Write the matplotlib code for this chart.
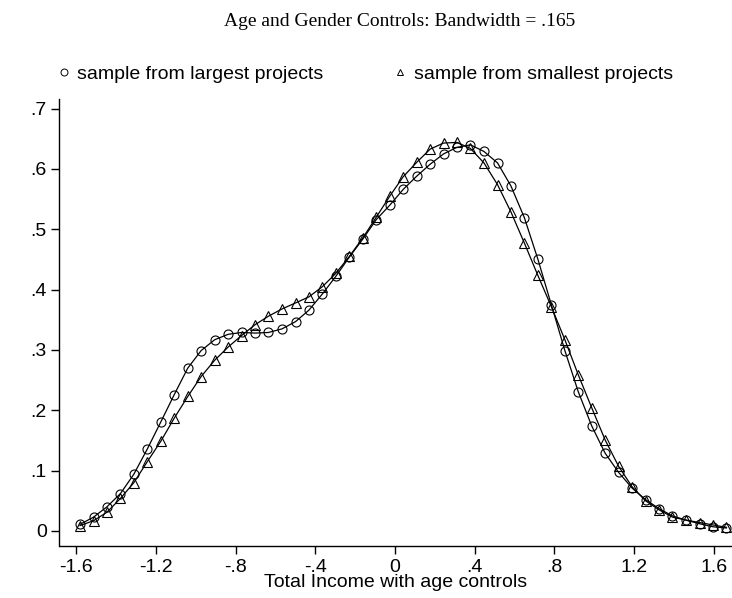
import numpy as np
import matplotlib.pyplot as plt
from matplotlib.lines import Line2D

# kernel density estimates
income = [-1.581, -1.513, -1.446, -1.378, -1.311, -1.243, -1.175, -1.108, -1.040, -0.973,
          -0.905, -0.837, -0.770, -0.702, -0.635, -0.567, -0.499, -0.432, -0.364, -0.297,
          -0.229, -0.161, -0.094, -0.026, 0.041, 0.109, 0.177, 0.244, 0.312, 0.379,
          0.447, 0.515, 0.582, 0.650, 0.717, 0.785, 0.853, 0.920, 0.988, 1.055,
          1.123, 1.191, 1.258, 1.326, 1.393, 1.461, 1.529, 1.596, 1.664]

largest = [0.011, 0.023, 0.040, 0.062, 0.094, 0.136, 0.181, 0.226, 0.270, 0.299,
           0.317, 0.326, 0.329, 0.328, 0.329, 0.335, 0.347, 0.366, 0.393, 0.422,
           0.454, 0.484, 0.516, 0.540, 0.566, 0.588, 0.608, 0.625, 0.636, 0.640,
           0.629, 0.610, 0.572, 0.519, 0.451, 0.375, 0.299, 0.231, 0.174, 0.129,
           0.097, 0.071, 0.052, 0.037, 0.025, 0.018, 0.012, 0.007, 0.005]

smallest = [0.009, 0.017, 0.031, 0.054, 0.080, 0.115, 0.149, 0.187, 0.223, 0.256,
            0.283, 0.305, 0.324, 0.342, 0.356, 0.368, 0.378, 0.388, 0.405, 0.427,
            0.455, 0.486, 0.520, 0.555, 0.587, 0.611, 0.633, 0.643, 0.644, 0.634,
            0.610, 0.574, 0.529, 0.477, 0.424, 0.372, 0.317, 0.259, 0.204, 0.151,
            0.107, 0.073, 0.050, 0.035, 0.023, 0.018, 0.014, 0.010, 0.006]

xticks = [-1.6, -1.2, -0.8, -0.4, 0, 0.4, 0.8, 1.2, 1.6]
xtick_labels = ["-1.6", "-1.2", "-.8", "-.4", "0", ".4", ".8", "1.2", "1.6"]
yticks = [0, 0.1, 0.2, 0.3, 0.4, 0.5, 0.6, 0.7]
ytick_labels = ["0", ".1", ".2", ".3", ".4", ".5", ".6", ".7"]

plt.rcParams['font.family'] = ['Liberation Sans', 'DejaVu Sans']

W, H = 732, 598
fig = plt.figure(figsize=(W / 100, H / 100), dpi=100)
# plot region in pixels: left 59.5, bottom spine at 546, top at 99
ax = fig.add_axes([59.5 / W, (H - 546) / H, (W - 59.5) / W, (546 - 99) / H])

ax.plot(income, largest, color='black', lw=0.9, marker='o', markersize=6.5,
        markerfacecolor='none', markeredgecolor='black', markeredgewidth=0.8, clip_on=False)
ax.plot(income, smallest, color='black', lw=0.9, marker='^', markersize=7,
        markerfacecolor='none', markeredgecolor='black', markeredgewidth=0.8, clip_on=False)

ax.set_xlim(-1.684, 1.692)
ax.set_ylim(-0.0249, 0.716)
ax.set_xticks(xticks)
ax.set_xticklabels(xtick_labels)
ax.set_yticks(yticks)
ax.set_yticklabels(ytick_labels)
ax.tick_params(direction='out', length=6, width=1, labelsize=14, colors='black', pad=3)

for side in ['top', 'right']:
    ax.spines[side].set_visible(False)
for side in ['left', 'bottom']:
    ax.spines[side].set_linewidth(1)

ax.set_xlabel("Total Income with age controls", fontsize=14, labelpad=-1)

fig.text(400 / W, 1 - 22 / H, "Age and Gender Controls: Bandwidth = .165",
         family='Liberation Serif', fontsize=14, ha='center', va='center')

handles = [Line2D([], [], ls='none', marker='o', markersize=5, markerfacecolor='none',
                  markeredgecolor='black', markeredgewidth=0.7),
           Line2D([], [], ls='none', marker='^', markersize=5, markerfacecolor='none',
                  markeredgecolor='black', markeredgewidth=0.7)]
fig.legend(handles, ["sample from largest projects", "sample from smallest projects"],
           loc='center left', bbox_to_anchor=(57 / W, 1 - 74 / H), ncol=2, frameon=False,
           fontsize=14, handlelength=0.7, handletextpad=0.35, columnspacing=3.6,
           borderpad=0, borderaxespad=0)

fig.savefig("out.png", dpi=100)
